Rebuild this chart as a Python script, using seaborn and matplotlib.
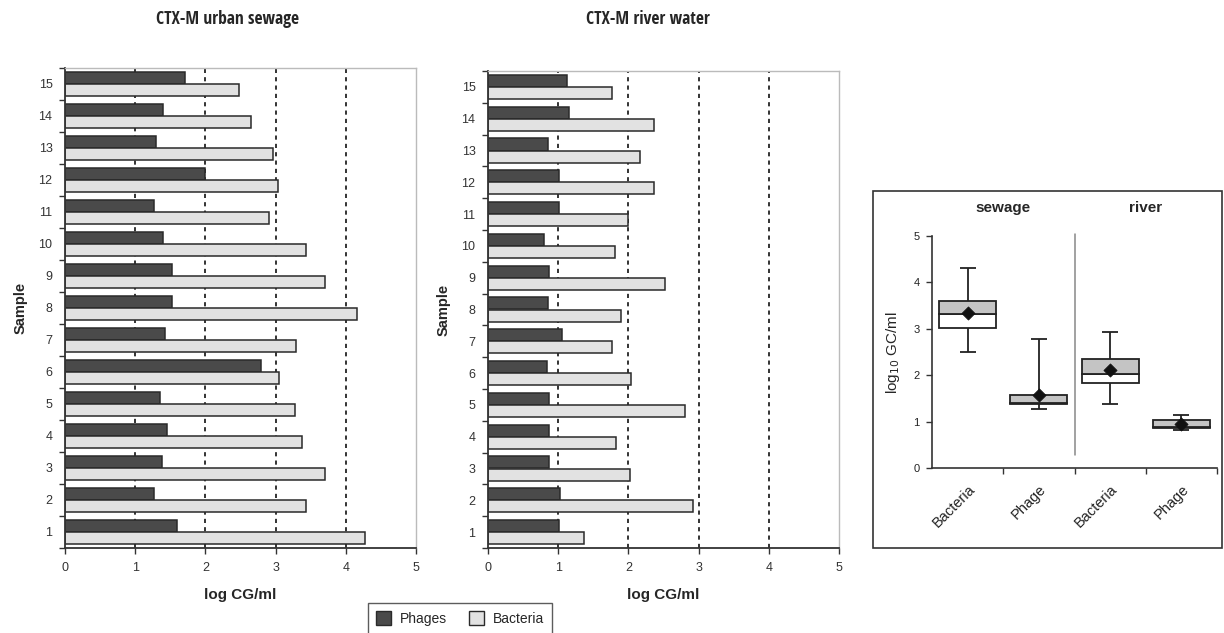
import numpy as np
import pandas as pd
import matplotlib
matplotlib.use("Agg")
import matplotlib.pyplot as plt
from matplotlib.patches import Rectangle
from matplotlib.lines import Line2D
from matplotlib import font_manager
import seaborn as sns

# ---------------- data ----------------
samples = [str(i) for i in range(1, 16)]
sewage_phages = [1.59, 1.27, 1.38, 1.46, 1.35, 2.79, 1.42, 1.53, 1.53, 1.40, 1.27, 1.99, 1.30, 1.40, 1.71]
sewage_bacteria = [4.27, 3.43, 3.70, 3.37, 3.27, 3.05, 3.29, 4.16, 3.70, 3.43, 2.90, 3.03, 2.97, 2.65, 2.48]
river_phages = [1.01, 1.03, 0.87, 0.87, 0.87, 0.84, 1.05, 0.85, 0.87, 0.80, 1.01, 1.01, 0.85, 1.16, 1.12]
river_bacteria = [1.37, 2.92, 2.02, 1.83, 2.81, 2.03, 1.77, 1.90, 2.52, 1.81, 2.00, 2.36, 2.17, 2.36, 1.77]

series_names = ["Phages", "Bacteria"]
panel_titles = ["CTX-M urban sewage", "CTX-M river water"]

box_labels = ["Bacteria", "Phage", "Bacteria", "Phage"]
box_groups = ["sewage", "river"]
box_whisk_lo = [2.49, 1.27, 1.38, 0.81]
box_q1 = [3.02, 1.38, 1.84, 0.86]
box_median = [3.31, 1.41, 2.02, 0.88]
box_q3 = [3.60, 1.58, 2.35, 1.04]
box_whisk_hi = [4.31, 2.79, 2.94, 1.15]
box_mean = [3.34, 1.58, 2.11, 0.95]

# ---------------- style ----------------
sns.set_theme(style="white")
plt.rcParams["font.family"] = ["Liberation Sans", "DejaVu Sans"]

cond_names = set()
for f in font_manager.fontManager.ttflist:
    if "Narrow" in f.name or "Condensed" in f.name:
        cond_names.add(f.name)
narrow = [n for n in ["Liberation Sans Narrow", "DejaVu Sans Condensed", "Open Sans Condensed",
                      "Roboto Condensed"] if n in cond_names] + ["Liberation Sans", "DejaVu Sans"]

W, H = 1224, 633
fig = plt.figure(figsize=(W / 100, H / 100), dpi=100)
fig.patch.set_facecolor("white")

pal = {"Phages": "#4a4a4a", "Bacteria": "#e2e2e2"}
order = samples[::-1]


def fx(px):
    return px / W


def fy(py):
    return 1 - py / H


def bar_panel(rect, phages, bacteria, title, title_x):
    ax = fig.add_axes(rect)
    df = pd.DataFrame({
        "sample": samples * 2,
        "value": list(phages) + list(bacteria),
        "type": ["Phages"] * 15 + ["Bacteria"] * 15,
    })
    for v in [1, 2, 3, 4]:
        ax.axvline(v, color="#111111", lw=1.2, ls=(0, (2.5, 2.5)), zorder=0)
    sns.barplot(data=df, x="value", y="sample", hue="type", order=order,
                hue_order=series_names, palette=pal, orient="h", width=0.76,
                edgecolor="#2a2a2a", linewidth=1.1, ax=ax, legend=False,
                saturation=1, zorder=2)
    ax.set_xlim(0, 5)
    ax.set_ylim(14.5, -0.5)
    ax.set_xticks([0, 1, 2, 3, 4, 5])
    ax.set_xticklabels(["0", "1", "2", "3", "4", "5"], fontsize=9, color="#333333")
    ax.set_yticks(range(15))
    ax.set_yticklabels(order, fontsize=9, color="#333333")
    ax.set_yticks(np.arange(-0.5, 15, 1), minor=True)
    ax.tick_params(axis="y", which="major", length=0, pad=9)
    ax.tick_params(axis="y", which="minor", length=4, width=1, color="#333333", direction="out", left=True)
    ax.tick_params(axis="x", which="major", length=4, width=1, color="#333333", direction="out", bottom=True, pad=6)
    for s in ["left", "bottom"]:
        ax.spines[s].set_color("#333333")
        ax.spines[s].set_linewidth(1.3)
    for s in ["top", "right"]:
        ax.spines[s].set_color("#bbbbbb")
        ax.spines[s].set_linewidth(1.0)
    ax.set_xlabel("log CG/ml", fontsize=11, fontweight="bold", labelpad=10)
    ax.set_ylabel("Sample", fontsize=10.5, fontweight="bold", labelpad=8)
    ax.grid(False)
    fig.text(title_x, fy(19), title, ha="center", va="center", fontsize=12.5,
             fontweight="bold", family=narrow)
    return ax


ax1 = bar_panel([fx(65), fy(548), fx(351), (548 - 68) / H], sewage_phages, sewage_bacteria,
                panel_titles[0], fx(227))
ax2 = bar_panel([fx(488), fy(548), fx(351), (548 - 71) / H], river_phages, river_bacteria,
                panel_titles[1], fx(648))

# legend
handles = [Rectangle((0, 0), 1, 1, facecolor=pal[n], edgecolor="#2a2a2a", lw=1) for n in series_names]
leg = fig.legend(handles, series_names, loc="upper center", bbox_to_anchor=(fx(460), fy(603)),
                 ncol=2, frameon=True, fancybox=False, fontsize=10, handlelength=1.1,
                 handleheight=1.1, columnspacing=1.6, handletextpad=0.6,
                 borderpad=0.6, borderaxespad=0, edgecolor="#333333")
leg.get_frame().set_linewidth(1.0)

# ---------------- box plot panel ----------------
fig.add_artist(Rectangle((fx(873), fy(548)), fx(1222 - 873), (548 - 191) / H,
                         transform=fig.transFigure, fill=False, edgecolor="#333333", lw=1.2))
ax3 = fig.add_axes([fx(932), fy(468), fx(1217 - 932), (468 - 236) / H])
xpos = np.arange(4)
ax3.errorbar(xpos, box_median,
             yerr=[np.array(box_median) - np.array(box_whisk_lo),
                   np.array(box_whisk_hi) - np.array(box_median)],
             fmt="none", ecolor="#222222", elinewidth=1.3, capsize=6, capthick=1.3, zorder=1)
ax3.bar(xpos, np.array(box_median) - np.array(box_q1), bottom=box_q1, width=0.8,
        color="white", edgecolor="#222222", lw=1.3, zorder=2)
ax3.bar(xpos, np.array(box_q3) - np.array(box_median), bottom=box_median, width=0.8,
        color="#c4c4c4", edgecolor="#222222", lw=1.3, zorder=2)
sns.scatterplot(x=xpos, y=box_mean, marker="D", color="#111111", s=45, ax=ax3, zorder=3,
                edgecolor="#111111")
ax3.add_line(Line2D([1.5, 1.5], [0.28, 5.05], color="#888888", lw=1.1, clip_on=False))
ax3.set_xlim(-0.5, 3.5)
ax3.set_ylim(0, 5)
ax3.set_yticks([0, 1, 2, 3, 4, 5])
ax3.set_yticklabels(["0", "1", "2", "3", "4", "5"], fontsize=8, color="#222222")
ax3.set_xticks(xpos)
ax3.set_xticklabels(box_labels, rotation=45, ha="right", va="top", rotation_mode="anchor",
                    fontsize=10.5, color="#222222")
ax3.set_xticks([0.5, 1.5, 2.5, 3.5], minor=True)
ax3.tick_params(axis="x", which="major", length=0, pad=10)
ax3.tick_params(axis="x", which="minor", length=4, width=1, color="#333333", direction="out", bottom=True)
ax3.tick_params(axis="y", which="major", length=4, width=1, color="#333333", direction="out", left=True, pad=5)
for s in ["top", "right"]:
    ax3.spines[s].set_visible(False)
for s in ["left", "bottom"]:
    ax3.spines[s].set_color("#333333")
    ax3.spines[s].set_linewidth(1.2)
ax3.set_ylabel("log$_{10}$ GC/ml", fontsize=11, labelpad=8)
ax3.set_xlabel("")
ax3.grid(False)
ax3.text(0.5, 5.6, box_groups[0], ha="center", va="center", fontsize=11, fontweight="bold",
         transform=ax3.transData, clip_on=False)
ax3.text(2.5, 5.6, box_groups[1], ha="center", va="center", fontsize=11, fontweight="bold",
         transform=ax3.transData, clip_on=False)

fig.savefig("out.png", dpi=100, facecolor="white")
